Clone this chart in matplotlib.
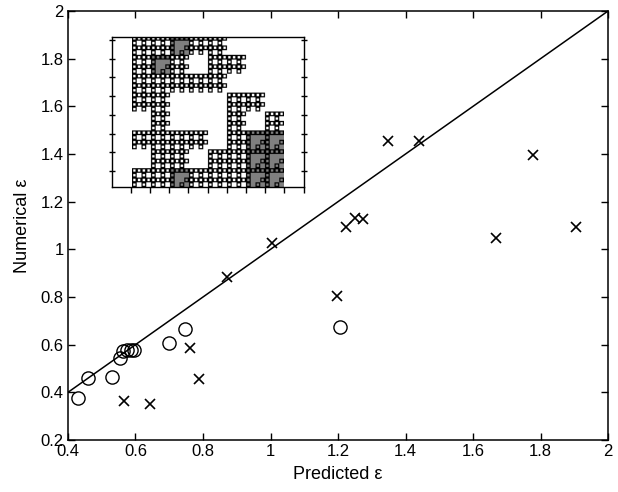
import numpy as np
import matplotlib
matplotlib.use("Agg")
import matplotlib.pyplot as plt

plt.rcParams['font.family'] = ['Liberation Sans', 'DejaVu Sans']

# circles: (predicted, numerical)
circ_x = [0.43, 0.46, 0.53, 0.555, 0.563, 0.575, 0.587, 0.596, 0.70, 0.747, 1.205]
circ_y = [0.375, 0.46, 0.465, 0.545, 0.575, 0.578, 0.578, 0.576, 0.607, 0.667, 0.675]

# crosses
cross_x = [0.566, 0.643, 0.761, 0.788, 0.871, 1.004, 1.197, 1.224, 1.25, 1.274,
           1.348, 1.44, 1.668, 1.778, 1.905]
cross_y = [0.365, 0.352, 0.587, 0.456, 0.885, 1.027, 0.805, 1.095, 1.131, 1.128,
           1.455, 1.455, 1.048, 1.396, 1.095]

ref_line = [0.4, 2.0]

xticks = [0.4, 0.6, 0.8, 1.0, 1.2, 1.4, 1.6, 1.8, 2.0]
xlabels = ["0.4", "0.6", "0.8", "1", "1.2", "1.4", "1.6", "1.8", "2"]
yticks = [0.2, 0.4, 0.6, 0.8, 1.0, 1.2, 1.4, 1.6, 1.8, 2.0]
ylabels = ["0.2", "0.4", "0.6", "0.8", "1", "1.2", "1.4", "1.6", "1.8", "2"]

# coarse layout of the inset picture: f = dotted fractal, g = grey, w = white
inset_map = ["ffgffwww",
             "fgfwffww",
             "fffffwww",
             "ffwwwffw",
             "wfwwwfwf",
             "ffffwfgg",
             "wffwffgg",
             "ffgfffgg"]

fig = plt.figure(figsize=(6.18, 4.92), dpi=100)
ax = fig.add_axes([0.110, 0.1057, 0.874, 0.872])

ax.plot(ref_line, ref_line, color="black", linewidth=1.1)
ax.plot(circ_x, circ_y, linestyle="none", marker="o", markersize=9.5,
        markerfacecolor="none", markeredgecolor="black", markeredgewidth=1.0)
ax.plot(cross_x, cross_y, linestyle="none", marker="x", markersize=7.5,
        color="black", markeredgewidth=1.2)

ax.set_xlim(0.4, 2)
ax.set_ylim(0.2, 2)
ax.set_xticks(xticks)
ax.set_xticklabels(xlabels)
ax.set_yticks(yticks)
ax.set_yticklabels(ylabels)
ax.tick_params(direction="in", length=5, width=1, top=True, right=True,
               labelsize=12, pad=3)
for s in ax.spines.values():
    s.set_linewidth(1.1)
ax.set_xlabel("Predicted ε", fontsize=13, labelpad=5)
ax.set_ylabel("Numerical ε", fontsize=13, labelpad=7)

# inset picture: small rings grouped in threes (little sierpinski clusters)
cell = 16
n = len(inset_map)
img = np.zeros((n * cell, n * cell))
ii, jj = np.mgrid[0:cell, 0:cell]
ri, rj = ii % 4, jj % 4
ring_motif = ~(((ri == 1) | (ri == 2)) & ((rj == 1) | (rj == 2)))
a, b = (ii // 4) % 2, (jj // 4) % 2
tex = (ring_motif & ((a & b) == 0)).astype(float)
edge = np.zeros((cell, cell), bool)
edge[:4, :] = edge[-4:, :] = edge[:, :4] = edge[:, -4:] = True
for r, row in enumerate(inset_map):
    for c, ch in enumerate(row):
        blk = img[r * cell:(r + 1) * cell, c * cell:(c + 1) * cell]
        if ch == "f":
            blk[:] = tex
        elif ch == "g":
            blk[:] = 0.5
            blk[edge] = np.maximum(tex[edge], 0.5)

iax = fig.add_axes([0.181, 0.620, 0.311, 0.305])
iax.imshow(img, cmap="gray_r", vmin=0, vmax=1, extent=[1.04, 8.9, 8, 0],
           aspect="auto", interpolation="bilinear")
iax.set_xlim(0, 10)
iax.set_ylim(8, 0)
iax.set_xticks(np.arange(1, 11) - 0.02)
iax.set_yticks(np.arange(8) + 0.16)
iax.set_xticklabels([])
iax.set_yticklabels([])
iax.tick_params(axis="x", direction="out", length=4, width=1)
iax.tick_params(axis="y", direction="inout", length=5, width=1, right=True)
for s in iax.spines.values():
    s.set_linewidth(1.0)

fig.savefig("out.png", dpi=100)
